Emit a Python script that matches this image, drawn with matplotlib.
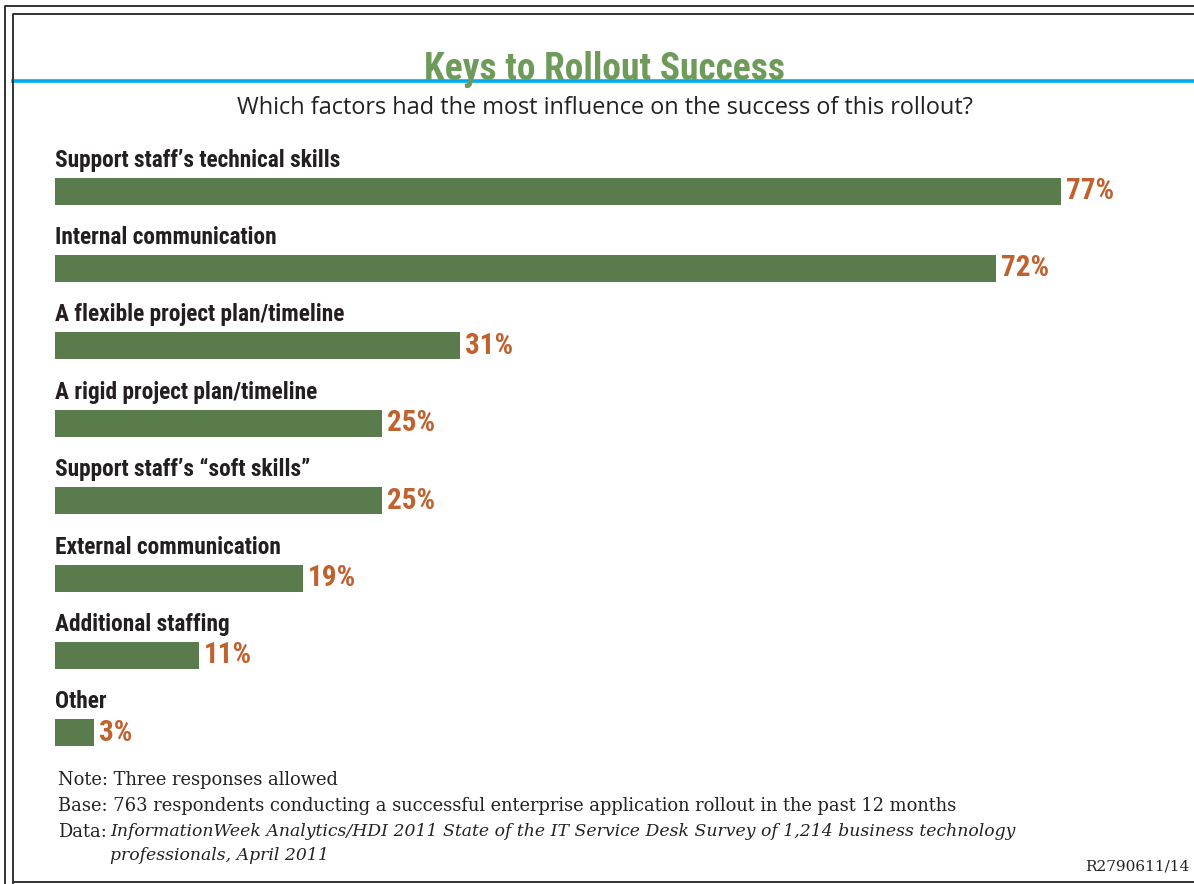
import matplotlib
matplotlib.use("Agg")
import matplotlib.pyplot as plt
from matplotlib.lines import Line2D

# Survey results
factors = [
    "Support staff\u2019s technical skills",
    "Internal communication",
    "A flexible project plan/timeline",
    "A rigid project plan/timeline",
    "Support staff\u2019s \u201csoft skills\u201d",
    "External communication",
    "Additional staffing",
    "Other",
]
shares = [77, 72, 31, 25, 25, 19, 11, 3]

W, H = 1194, 884
BAR_GREEN = "#5a7b4b"
LABEL_ORANGE = "#c0622f"
TITLE_GREEN = "#6f9b5a"
COND = ["Roboto Condensed", "DejaVu Sans"]
SANS = ["Open Sans", "DejaVu Sans"]
SERIF = ["DejaVu Serif", "Liberation Serif"]

fig = plt.figure(figsize=(W / 100, H / 100), dpi=100)


def fx(px):
    return px / W


def fy(py):
    return 1 - py / H


# Double frame and blue rule
for (x0, y0) in [(5, 6), (13, 14)]:
    fig.add_artist(Line2D([fx(x0), fx(x0), 1.0], [fy(H + 5), fy(y0), fy(y0)],
                          transform=fig.transFigure, color="#333333", lw=1.4))
fig.add_artist(Line2D([fx(13), 1.0], [fy(882), fy(882)],
                      transform=fig.transFigure, color="#333333", lw=1.4))
fig.add_artist(Line2D([fx(13), 1.0], [fy(81), fy(81)],
                      transform=fig.transFigure, color="#00aeef", lw=2.6, zorder=0))

fig.text(fx(604), fy(80), "Keys to Rollout Success", ha="center", va="baseline",
         fontsize=27, fontweight="bold", color=TITLE_GREEN, family=COND)
fig.text(fx(605), fy(108), "Which factors had the most influence on the success of this rollout?",
         ha="center", va="center", fontsize=16.9, color="#222222", family=SANS)

# Bar area: zero at x=55px, 13.06 px per percentage point
px_per_pct = (1061 - 55) / 77
left_px, right_px = 55, W
top_px, bot_px = 140, 770
ax = fig.add_axes([fx(left_px), fy(bot_px), fx(right_px - left_px), (bot_px - top_px) / H])
ax.set_xlim(0, (right_px - left_px) / px_per_pct)
step = 77.4
first = 191
ax.set_ylim((bot_px - first) / step, (top_px - first) / step)
ax.axis("off")

ypos = list(range(len(factors)))
ax.barh(ypos, shares, height=27 / step, color=BAR_GREEN)
for y, name, v in zip(ypos, factors, shares):
    ax.text(0, y - 31 / step, name, ha="left", va="center", fontsize=16.8,
            fontweight="bold", color="#231f20", family=COND)
    ax.text(v + 5 / px_per_pct, y, f"{v}%", ha="left", va="center", fontsize=21,
            fontweight="bold", color=LABEL_ORANGE, family=COND)

# Footnotes
foot = dict(ha="left", va="center", fontsize=12.9, color="#222222", family=SERIF)
ital = dict(foot, fontsize=12.4, style="italic")
fig.text(fx(58), fy(780), "Note: Three responses allowed", **foot)
fig.text(fx(58), fy(806), "Base: 763 respondents conducting a successful enterprise application rollout in the past 12 months", **foot)
fig.text(fx(58), fy(832), "Data:", **foot)
fig.text(fx(110), fy(832), "InformationWeek Analytics/HDI 2011 State of the IT Service Desk Survey of 1,214 business technology",
         **ital)
fig.text(fx(110), fy(855), "professionals, April 2011", **ital)
fig.text(fx(1189), fy(866), "R2790611/14", ha="right", va="center", fontsize=11,
         color="#222222", family=SERIF)

fig.savefig("out.png", dpi=100)
